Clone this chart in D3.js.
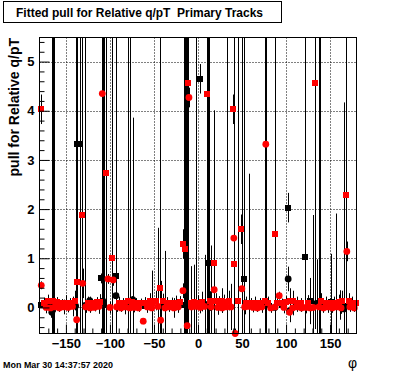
<!DOCTYPE html>
<html>
<head>
<meta charset="utf-8">
<script src="https://cdn.jsdelivr.net/npm/d3@7"></script>
<style>
  body { margin: 0; background: #fff; }
  text { font-family: "Liberation Sans", Arial, Helvetica, sans-serif; }
</style>
</head>
<body>
<script>
// each row: [phi, pull, error]
var blackSquares = [
  [-178.6, 0.04, 0.05], [-168, 0.1, 0.08], [-137.1, 3.32, 5], [-133.5, 3.32, 5],
  [-109.8, 0.59, 0.1], [-106.8, 0.05, 6], [-93.5, 0.63, 0.1], [-77, 0.05, 6],
  [-60.3, 0.02, 0.05], [-15.5, 0.05, 6], [-2.7, 0.05, 6], [1.8, 4.65, 0.3],
  [12, 0.91, 6], [52.5, 0.57, 6], [95, 0.05, 0.05], [102, 2.03, 0.3],
  [121, 1.03, 6], [127.4, 0.13, 0.47], [138.7, 0.1, 6], [151.6, 0.12, 0.97],
  [166.7, 0.02, 0.05]
];

var blackCircles = [
  [-166, -0.1, 6], [-164, 0.02, 6], [-139, 0.03, 6], [-128, 0.04, 6],
  [-123, 0.14, 0.08], [-108, 0.13, 6], [-93.2, 0.24, 6], [-74.2, 0.16, 3.7],
  [-37.5, 0.05, 1.1], [-13.5, 0.05, 6], [10.9, 0.06, 6], [76.7, 0.05, 1.0],
  [87.3, 0.0, 0.06], [102.4, 0.58, 0.25], [104, -0.07, 0.15], [134.6, 0.08, 0.9],
  [137, 0.05, 6], [160.7, 0.05, 0.3], [165.5, -0.03, 4.2]
];

var redCircles = [
  [-178, 0.45, 0.08], [-172.5, 0.0, 0.12], [-167.5, -0.01, 0.2], [-162.5, 0.01, 0.1],
  [-157.5, -0.01, 0.08], [-152.5, 0.01, 0.15], [-147.5, 0.0, 0.1], [-142.5, 0.02, 0.2],
  [-137.8, -0.25, 1.0], [-131, 0.49, 0.3], [-127.5, 0.01, 0.12], [-122.5, -0.01, 0.1],
  [-117.5, 0.0, 0.08], [-112.5, 0.02, 0.15], [-108.7, 4.35, 5], [-102.3, 0.58, 0.1],
  [-100, 0.0, 0.12], [-96.4, 0.56, 0.12], [-92.5, 0.01, 0.1], [-87.5, -0.01, 0.08],
  [-82.5, 0.01, 0.15], [-77.5, -0.01, 0.2], [-72.5, 0.0, 0.1], [-67.5, -0.01, 0.08],
  [-62.2, -0.28, 0.06], [-57.5, 0.01, 0.12], [-52.5, -0.01, 0.1], [-45.5, 0.02, 1.6],
  [-42.4, -0.26, 0.8], [-37.5, -0.01, 0.15], [-32.5, 0.01, 0.1], [-27.5, -0.01, 0.2],
  [-22.5, 0.01, 0.12], [-17.1, 0.34, 0.15], [-12.3, -0.37, 6], [-10.3, 4.27, 0.2],
  [-7.5, 0.01, 0.15], [-2.5, 0.02, 0.2], [2.5, 0.0, 0.12], [7.5, 0.02, 1.05],
  [15, 0.01, 1.25], [18.4, 0.36, 0.1], [22.5, 0.0, 0.15], [27.5, -0.01, 0.1],
  [32.5, 0.01, 6], [37.5, 0.01, 0.47], [40.7, 1.41, 6], [42.2, -0.53, 0.1],
  [49.8, 0.38, 6], [53, 0.01, 0.15], [57.5, 0.02, 2.7], [62.5, 0.0, 0.1],
  [67.5, -0.01, 0.08], [72.5, 0.01, 0.12], [77, 3.32, 4], [82.5, -0.01, 0.1],
  [87.5, 0.01, 0.08], [92.2, 0.24, 0.08], [97.5, 0.0, 0.12], [104, -0.1, 0.2],
  [107.5, -0.01, 0.15], [112.5, 0.01, 0.1], [117.5, -0.01, 0.08], [122.5, 0.0, 0.12],
  [127.5, -0.01, 0.1], [130.8, 0.0, 1.88], [137.5, 0.01, 0.15], [142.5, -0.01, 0.1],
  [147.5, 0.01, 0.12], [152.5, -0.01, 0.1], [157, 0.01, 1.9], [162.5, -0.01, 0.12],
  [169, 1.14, 0.2], [172.5, 0.01, 0.1], [177.5, -0.01, 0.08]
];

var redSquares = [
  [-178.6, 4.03, 0.3], [-175, 0.1, 0.1], [-170, 0.14, 0.12], [-165, 0.14, 6],
  [-160, 0.11, 0.1], [-155, 0.09, 0.08], [-150, 0.1, 0.15], [-145, 0.09, 0.1],
  [-140, 0.14, 0.2], [-137.8, 0.51, 0.2], [-131.8, 1.89, 6], [-125, 0.1, 0.12],
  [-120, 0.09, 0.08], [-115, 0.11, 0.1], [-111, 0.12, 0.15], [-104.5, 2.74, 4],
  [-97.7, 1.01, 6], [-90, 0.1, 0.12], [-85, 0.09, 0.1], [-79, 0.14, 6],
  [-75, 0.11, 0.12], [-70, 0.09, 0.1], [-65, 0.1, 0.08], [-60, 0.09, 0.12],
  [-55, 0.14, 0.15], [-52.5, 0.1, 0.65], [-47.5, 0.14, 0.2], [-43.2, 0.39, 6],
  [-40, 0.13, 0.15], [-35, 0.09, 0.12], [-30, 0.1, 0.1], [-25, 0.09, 0.15],
  [-20, 0.11, 0.12], [-17.1, 1.29, 0.3], [-14.5, 1.18, 6], [-11.8, 4.56, 5],
  [-7.5, 0.1, 0.74], [-5, 0.12, 0.75], [0, 0.1, 0.15], [5, 0.12, 0.2],
  [9.8, 4.34, 5], [14, 0.13, 0.2], [17.7, 0.91, 3.1], [20, 0.14, 0.15],
  [24, 0.11, 0.12], [27.5, 0.14, 0.25], [30, 0.11, 0.15], [35, 0.14, 0.2],
  [40, 4.03, 0.3], [41.1, 0.89, 0.2], [45.3, 0.14, 6], [48.3, 1.59, 0.3],
  [55, 0.1, 0.12], [60, 0.09, 0.1], [65, 0.1, 0.12], [70, 0.09, 0.1],
  [75.6, 0.14, 6], [80, 0.1, 0.12], [87.3, 1.50, 6], [90, 0.09, 0.1],
  [95, 0.1, 0.08], [100, 0.11, 0.12], [105, 0.14, 0.25], [108, 0.14, 0.2],
  [112, 0.1, 0.12], [117, 0.09, 0.1], [125, 0.1, 0.15], [133, 4.56, 5],
  [140, 0.14, 0.15], [145, 0.1, 0.12], [150, 0.09, 0.1], [155, 0.1, 0.12],
  [160, 0.11, 0.15], [163, 0.14, 0.2], [167.8, 2.29, 4], [171, 0.14, 0.15],
  [175, 0.1, 0.12], [179, 0.09, 0.1]
];

var xMajor = [-150, -100, -50, 0, 50, 100, 150];
var yMajor = [0, 1, 2, 3, 4, 5];

var W = 396, H = 372;
var fx0 = 39.5, fx1 = 356.5, fy0 = 37.5, fy1 = 333.5;

var svg = d3.select("body").append("svg")
    .attr("width", W)
    .attr("height", H);

svg.append("rect").attr("width", W).attr("height", H).attr("fill", "#fff");

var x = d3.scaleLinear().domain([-180, 180]).range([fx0, fx1]);
var y = d3.scaleLinear().domain([-0.53, 5.49]).range([fy1, fy0]);

svg.append("clipPath").attr("id", "frame")
  .append("rect")
    .attr("x", fx0).attr("y", fy0)
    .attr("width", fx1 - fx0).attr("height", fy1 - fy0);

// dotted grid
var grid = svg.append("g").attr("stroke", "#000").attr("stroke-width", 1)
    .attr("stroke-dasharray", "1,2");
grid.selectAll(".gx").data(xMajor).enter().append("line")
    .attr("x1", d => Math.round(x(d)) + 0.5).attr("x2", d => Math.round(x(d)) + 0.5)
    .attr("y1", fy0).attr("y2", fy1);
grid.selectAll(".gy").data(yMajor).enter().append("line")
    .attr("y1", d => Math.round(y(d)) + 0.5).attr("y2", d => Math.round(y(d)) + 0.5)
    .attr("x1", fx0).attr("x2", fx1);

var plot = svg.append("g").attr("clip-path", "url(#frame)");

function errors(rows) {
  plot.append("g").selectAll("line").data(rows).enter().append("line")
    .attr("x1", d => Math.round(x(d[0])) + 0.5)
    .attr("x2", d => Math.round(x(d[0])) + 0.5)
    .attr("y1", d => y(d[1] - d[2]))
    .attr("y2", d => y(d[1] + d[2]))
    .attr("stroke", "#000")
    .attr("stroke-width", 1);
}

function squares(rows, color) {
  svg.append("g").selectAll("rect").data(rows).enter().append("rect")
    .attr("x", d => x(d[0]) - 3)
    .attr("y", d => y(d[1]) - 3)
    .attr("width", 6).attr("height", 6)
    .attr("fill", color)
    .attr("shape-rendering", "crispEdges");
}

function circles(rows, color) {
  svg.append("g").selectAll("circle").data(rows).enter().append("circle")
    .attr("cx", d => x(d[0]))
    .attr("cy", d => y(d[1]))
    .attr("r", 3.4)
    .attr("fill", color);
}

errors(blackSquares); squares(blackSquares, "#000");
errors(blackCircles); circles(blackCircles, "#000");
errors(redCircles); circles(redCircles, "#f00");
errors(redSquares); squares(redSquares, "#f00");

// frame
svg.append("rect")
    .attr("x", fx0).attr("y", fy0)
    .attr("width", fx1 - fx0).attr("height", fy1 - fy0)
    .attr("fill", "none").attr("stroke", "#000").attr("stroke-width", 1);

// axes, ticks inside the frame
var xMinor = d3.range(-170, 180, 10).filter(v => xMajor.indexOf(v) < 0);
var yMinor = d3.range(-0.4, 5.45, 0.2).filter(v => Math.abs(v - Math.round(v)) > 0.01);

svg.append("g").attr("transform", `translate(0,${fy1})`)
    .call(d3.axisBottom(x).tickValues(xMinor).tickSize(-5).tickFormat(""))
    .call(g => g.select(".domain").remove());

svg.append("g").attr("class", "x-axis").attr("transform", `translate(0,${fy1})`)
    .call(d3.axisBottom(x).tickValues(xMajor).tickSize(-9).tickPadding(5))
    .call(g => g.select(".domain").remove());

svg.append("g").attr("transform", `translate(${fx0},0)`)
    .call(d3.axisLeft(y).tickValues(yMinor).tickSize(-5).tickFormat(""))
    .call(g => g.select(".domain").remove());

svg.append("g").attr("class", "y-axis").attr("transform", `translate(${fx0},0)`)
    .call(d3.axisLeft(y).tickValues(yMajor).tickSize(-10).tickPadding(5)
      .tickFormat(d3.format("d")))
    .call(g => g.select(".domain").remove());

svg.selectAll(".x-axis text, .y-axis text")
    .attr("font-family", "Liberation Sans, Arial, sans-serif")
    .attr("font-weight", "bold")
    .attr("font-size", 13)
    .attr("fill", "#000");

// titles
svg.append("rect")
    .attr("x", 3.5).attr("y", 1.5).attr("width", 278).attr("height", 21)
    .attr("fill", "#fff").attr("stroke", "#000").attr("stroke-width", 1);

svg.append("text")
    .attr("x", 16).attr("y", 16.5)
    .attr("font-weight", "bold").attr("font-size", 12)
    .attr("textLength", 247).attr("lengthAdjust", "spacingAndGlyphs")
    .style("white-space", "pre")
    .text("Fitted pull for Relative q/pT  Primary Tracks");

svg.append("text")
    .attr("transform", "translate(19,38) rotate(-90)")
    .attr("text-anchor", "end")
    .attr("font-weight", "bold").attr("font-size", 14)
    .text("pull for Relative q/pT");

svg.append("text")
    .attr("x", 357).attr("y", 368)
    .attr("text-anchor", "end")
    .attr("font-size", 14)
    .text("φ");

svg.append("text")
    .attr("x", 3).attr("y", 368)
    .attr("font-weight", "bold").attr("font-size", 9)
    .attr("textLength", 110).attr("lengthAdjust", "spacingAndGlyphs")
    .text("Mon Mar 30 14:37:57 2020");
</script>
</body>
</html>
